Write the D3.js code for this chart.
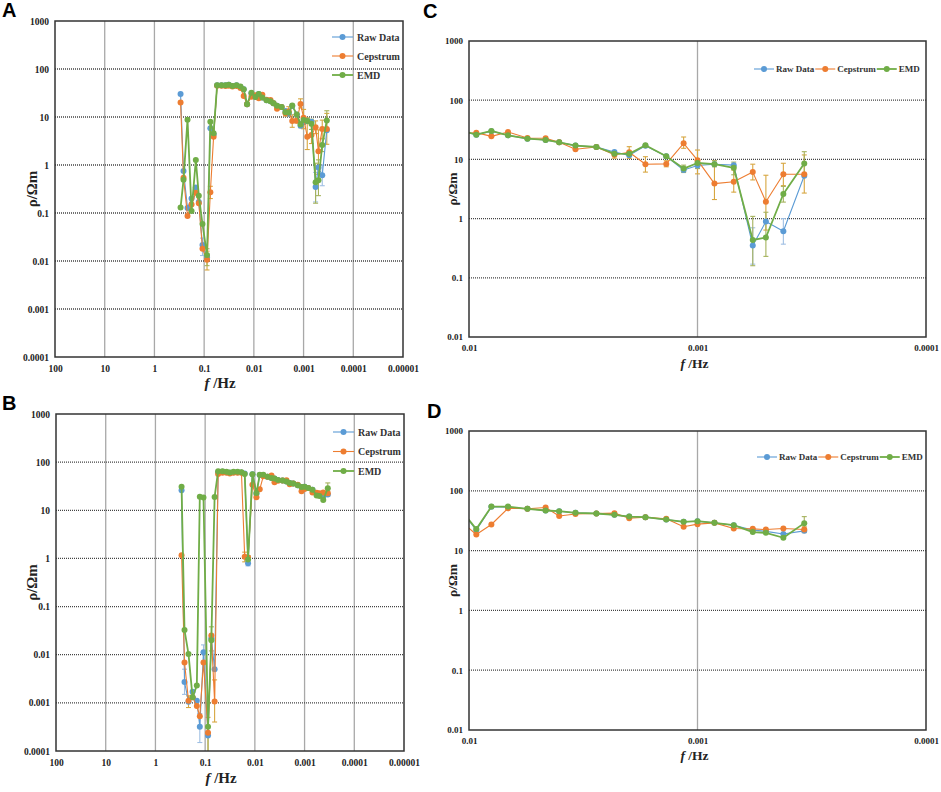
<!DOCTYPE html>
<html><head><meta charset="utf-8">
<script src="https://cdn.jsdelivr.net/npm/d3@7"></script>
<style>body{margin:0;background:#fff}</style>
</head><body>
<svg id="chart" width="941" height="792" xmlns="http://www.w3.org/2000/svg"></svg>
<script>
// ---------- data ----------
const freq = [0.298, 0.26, 0.216, 0.179, 0.147, 0.128, 0.108, 0.0875, 0.075, 0.0645,
  0.0548, 0.0448, 0.0372, 0.0319, 0.0269, 0.0223, 0.0186, 0.016, 0.0137, 0.0112,
  0.00929, 0.00798, 0.00675, 0.00555, 0.00462, 0.00403, 0.00342, 0.00277, 0.00231, 0.00199,
  0.00169, 0.00137, 0.00115, 0.001, 0.000843, 0.000694, 0.000573, 0.000502, 0.000421, 0.000341];

// site 1 (panels A and C)
const raw1 = [30, 0.75, 0.127, 0.2, 0.34, 0.17, 0.0215, 0.012, 5.8, 4.3,
  46, 46, 46, 47, 44, 46, 42, 38, 18.4, 31,
  26, 30, 25.5, 22.4, 21.3, 19.4, 17.1, 16.2, 13.3, 11.7,
  17, 11.3, 6.6, 7.9, 8.3, 8.0, 0.35, 0.89, 0.61, 5.3];
const ceps1 = [20, 0.54, 0.087, 0.15, 0.265, 0.16, 0.018, 0.0106, 0.27, 3.9,
  45, 45, 44, 45, 43, 44, 40, 27.5, 18.4, 26.5,
  28.3, 24.5, 29, 23, 22.7, 19.4, 14.8, 16.2, 12, 13.2,
  8.3, 8.4, 18.7, 9.7, 3.9, 4.2, 6.1, 1.93, 5.6, 5.6];
const emd1 = [0.13, 0.49, 8.8, 0.11, 1.27, 0.23, 0.059, 0.0133, 8.0, 4.6,
  46, 46, 46, 47, 44, 46, 43, 38, 18.4, 32,
  26.1, 30.2, 25.5, 22.4, 21.3, 19.4, 17.1, 16.2, 12.5, 12.4,
  17.3, 11.3, 7.0, 8.7, 8.3, 7.2, 0.435, 0.48, 2.6, 8.5];

// site 2 (panels B and D)
const raw2 = [26, 0.0027, 0.00106, 0.0017, 0.0011, 0.00032, 0.0112, 0.00021, 0.022, 0.005,
  62, 63, 62, 60, 62, 62, 61, 58, 0.79, 56,
  22, 54, 53, 50, 47, 45.6, 42.8, 41.7, 39.6, 37,
  36.2, 33, 30.3, 31, 29.1, 26.6, 22, 21, 19, 21.4];
const ceps2 = [1.16, 0.0069, 0.0011, 0.0013, 0.00086, 0.00053, 0.0069, 0.00024, 0.025, 0.00107,
  56.7, 60, 60, 58, 60, 60, 60, 1.09, 1.05, 34,
  18.6, 27.3, 51, 50, 52.5, 38, 41, 41.7, 42.3, 34.8,
  36.2, 34, 25, 27.7, 29.1, 23.4, 23.1, 22.5, 23.4, 22.5];
const emd2 = [31, 0.0325, 0.0103, 0.0013, 0.0023, 19, 18.5, 0.00032, 0.020, 18.9,
  65, 65, 63.5, 61, 63, 63, 62, 57, 0.95, 56,
  22.9, 54.4, 54.4, 49.9, 46.8, 45.6, 42.8, 41.7, 39.6, 37,
  36.2, 33, 30.3, 31, 29.1, 26.6, 20.4, 19.8, 16.4, 28.8];

// error bars: [point index, low, high]
const errRaw1 = [[6, 0.013, 0.03], [36, 0.17, 0.7], [38, 0.37, 1.0]];
const errCeps1 = [[7, 0.0065, 0.016], [8, 0.2, 0.36], [28, 10.5, 13.5], [29, 10.4, 16.4], [30, 6.1, 11.1],
  [31, 7.5, 9.5], [32, 15.4, 23.9], [33, 5.7, 14.4], [34, 2.1, 9.5], [35, 2.8, 6.6],
  [36, 4.5, 8.3], [37, 0.64, 5.4], [38, 3.6, 8.6], [39, 2.7, 11.9]];
const errEmd1 = [[7, 0.008, 0.018], [32, 6.0, 8.0], [33, 7.0, 10.0], [34, 7.5, 9.5], [35, 5.5, 9.0],
  [36, 0.16, 1.09], [37, 0.23, 1.28], [38, 1.9, 3.5], [39, 5.4, 13.5]];
const errRaw2 = [[1, 0.0015, 0.005], [5, 0.00015, 0.0006], [6, 0.007, 0.016], [18, 0.7, 0.9]];
const errCeps2 = [[2, 0.0008, 0.0014], [7, 0.00008, 0.0005], [9, 0.0004, 0.003], [17, 0.85, 1.35], [39, 20, 25]];
const errEmd2 = [[7, 0.00008, 0.001], [8, 0.012, 0.038], [18, 0.8, 1.15], [39, 22, 37]];

const seriesNames = ["Raw Data", "Cepstrum", "EMD"];
const seriesColors = ["#5B9BD5", "#ED7D31", "#70AD47"];
const errColors = ["#9fbfe3", "#d7a640", "#a5b25c"];

const xTicksWide = [100, 10, 1, 0.1, 0.01, 0.001, 0.0001, 0.00001];
const xLabelsWide = ["100", "10", "1", "0.1", "0.01", "0.001", "0.0001", "0.00001"];
const yTicksWide = [0.0001, 0.001, 0.01, 0.1, 1, 10, 100, 1000];
const yLabelsWide = ["0.0001", "0.001", "0.01", "0.1", "1", "10", "100", "1000"];
const xTicksZoom = [0.01, 0.001, 0.0001];
const xLabelsZoom = ["0.01", "0.001", "0.0001"];
const yTicksZoom = [0.01, 0.1, 1, 10, 100, 1000];
const yLabelsZoom = ["0.01", "0.1", "1", "10", "100", "1000"];

// ---------- drawing ----------
const svg = d3.select("#chart");
const serif = "'Liberation Serif','Times New Roman',serif";

const site1 = {series: [raw1, ceps1, emd1], errs: [errRaw1, errCeps1, errEmd1]};
const site2 = {series: [raw2, ceps2, emd2], errs: [errRaw2, errCeps2, errEmd2]};

const panels = [
  {id: "A", site: site1, x0: 55, x1: 403, y0: 21, y1: 357, xd: [100, 1e-5], yd: [1e-4, 1000],
   xt: xTicksWide, xl: xLabelsWide, yt: yTicksWide, yl: yLabelsWide, tick: 9.5, title: 15,
   letter: [2, 17], legend: "v", leg: [332, 37, 19], xTitleY: 388, yTitleX: 37, xTitleDx: -9},
  {id: "B", site: site2, x0: 56, x1: 404, y0: 414, y1: 751, xd: [100, 1e-5], yd: [1e-4, 1000],
   xt: xTicksWide, xl: xLabelsWide, yt: yTicksWide, yl: yLabelsWide, tick: 9.5, title: 15,
   letter: [2, 410], legend: "v", leg: [333, 432, 19.5], xTitleY: 783, yTitleX: 37, xTitleDx: -9},
  {id: "C", site: site1, x0: 469, x1: 926, y0: 41, y1: 337, xd: [0.01, 1e-4], yd: [0.01, 1000],
   xt: xTicksZoom, xl: xLabelsZoom, yt: yTicksZoom, yl: yLabelsZoom, tick: 9, title: 13.5,
   letter: [423, 18], legend: "h", leg: [754, 69], xTitleY: 368, yTitleX: 457, xTitleDx: -3},
  {id: "D", site: site2, x0: 469, x1: 926, y0: 431, y1: 730, xd: [0.01, 1e-4], yd: [0.01, 1000],
   xt: xTicksZoom, xl: xLabelsZoom, yt: yTicksZoom, yl: yLabelsZoom, tick: 9, title: 13.5,
   letter: [427, 418], legend: "h", leg: [757, 457], xTitleY: 760, yTitleX: 457, xTitleDx: -3}
];

const defs = svg.append("defs");

panels.forEach(p => {
  const x = d3.scaleLog().domain(p.xd).range([p.x0, p.x1]);
  const y = d3.scaleLog().domain(p.yd).range([p.y1, p.y0]);
  const g = svg.append("g");
  const clipId = "clip" + p.id;
  defs.append("clipPath").attr("id", clipId).append("rect")
    .attr("x", p.x0).attr("y", p.y0).attr("width", p.x1 - p.x0).attr("height", p.y1 - p.y0);

  // vertical grid
  g.append("g").selectAll("line").data(p.xt.slice(1, -1)).join("line")
    .attr("x1", d => x(d)).attr("x2", d => x(d)).attr("y1", p.y0).attr("y2", p.y1)
    .attr("stroke", "#a8a8a8").attr("stroke-width", 1.3);
  // horizontal grid
  g.append("g").selectAll("line").data(p.yt.slice(1, -1)).join("line")
    .attr("x1", p.x0).attr("x2", p.x1).attr("y1", d => y(d)).attr("y2", d => y(d))
    .attr("stroke", "#444").attr("stroke-width", 1.3).attr("stroke-dasharray", "1,1");

  // axes labels via d3 axes
  const xAxis = d3.axisBottom(x).tickValues(p.xt).tickFormat((d, i) => p.xl[i]).tickSize(0).tickPadding(8);
  const gx = g.append("g").attr("transform", `translate(0,${p.y1})`).call(xAxis);
  gx.select(".domain").remove();
  gx.selectAll("text").attr("font-family", serif).attr("font-weight", "bold")
    .attr("font-size", p.tick).attr("fill", "#222");
  const yAxis = d3.axisLeft(y).tickValues(p.yt).tickFormat((d, i) => p.yl[i]).tickSize(0).tickPadding(6);
  const gy = g.append("g").attr("transform", `translate(${p.x0},0)`).call(yAxis);
  gy.select(".domain").remove();
  gy.selectAll("text").attr("font-family", serif).attr("font-weight", "bold")
    .attr("font-size", p.tick).attr("fill", "#222");

  // series
  const plot = g.append("g").attr("clip-path", `url(#${clipId})`);
  const line = d3.line().x((d, i) => x(freq[i])).y(d => y(d));
  p.site.series.forEach((vals, s) => {
    const eb = plot.append("g").attr("stroke", errColors[s]).attr("stroke-width", 1.1);
    p.site.errs[s].forEach(e => {
      const cx = x(freq[e[0]]);
      const ylo = y(Math.max(e[1], p.yd[0] * 0.5)), yhi = y(e[2]);
      eb.append("line").attr("x1", cx).attr("x2", cx).attr("y1", ylo).attr("y2", yhi);
      eb.append("line").attr("x1", cx - 2.5).attr("x2", cx + 2.5).attr("y1", yhi).attr("y2", yhi);
      eb.append("line").attr("x1", cx - 2.5).attr("x2", cx + 2.5).attr("y1", ylo).attr("y2", ylo);
    });
  });
  p.site.series.forEach((vals, s) => {
    plot.append("path").datum(vals).attr("d", line).attr("fill", "none")
      .attr("stroke", seriesColors[s]).attr("stroke-width", s === 2 ? 1.8 : 1.1)
      .attr("stroke-linejoin", "round");
    plot.append("g").selectAll("circle").data(vals).join("circle")
      .attr("cx", (d, i) => x(freq[i])).attr("cy", d => y(d)).attr("r", 3)
      .attr("fill", seriesColors[s]);
  });

  // border
  g.append("rect").attr("x", p.x0).attr("y", p.y0).attr("width", p.x1 - p.x0).attr("height", p.y1 - p.y0)
    .attr("fill", "none").attr("stroke", "#333").attr("stroke-width", 1.5);

  // titles
  const xt = g.append("text").attr("x", (p.x0 + p.x1) / 2 + p.xTitleDx).attr("y", p.xTitleY)
    .attr("text-anchor", "middle").attr("font-family", serif).attr("font-weight", "bold")
    .attr("font-size", p.title).attr("fill", "#222");
  xt.append("tspan").attr("font-style", "italic").text("f");
  xt.append("tspan").text(" /Hz");
  g.append("text").attr("transform", `translate(${p.yTitleX},${(p.y0 + p.y1) / 2}) rotate(-90)`)
    .attr("text-anchor", "middle").attr("font-family", serif).attr("font-weight", "bold")
    .attr("font-size", p.title).attr("fill", "#222").text("ρ/Ωm");

  // panel letter
  svg.append("text").attr("x", p.letter[0]).attr("y", p.letter[1])
    .attr("font-family", "'Liberation Sans',Arial,sans-serif").attr("font-weight", "bold")
    .attr("font-size", 20).attr("fill", "#000").text(p.id);

  // legend
  const lg = g.append("g");
  if (p.legend === "v") {
    seriesNames.forEach((n, s) => {
      const ly = p.leg[1] + s * p.leg[2];
      lg.append("line").attr("x1", p.leg[0]).attr("x2", p.leg[0] + 21).attr("y1", ly).attr("y2", ly)
        .attr("stroke", seriesColors[s]).attr("stroke-width", s === 2 ? 1.8 : 1.1);
      lg.append("circle").attr("cx", p.leg[0] + 10.5).attr("cy", ly).attr("r", 3).attr("fill", seriesColors[s]);
      lg.append("text").attr("x", p.leg[0] + 25).attr("y", ly).attr("dy", "0.35em")
        .attr("font-family", serif).attr("font-weight", "bold").attr("font-size", 10)
        .attr("fill", "#333").text(n);
    });
  } else {
    let cx = p.leg[0];
    const ly = p.leg[1];
    seriesNames.forEach((n, s) => {
      lg.append("line").attr("x1", cx).attr("x2", cx + 20).attr("y1", ly).attr("y2", ly)
        .attr("stroke", seriesColors[s]).attr("stroke-width", s === 2 ? 1.8 : 1.1);
      lg.append("circle").attr("cx", cx + 10).attr("cy", ly).attr("r", 3).attr("fill", seriesColors[s]);
      const t = lg.append("text").attr("x", cx + 22).attr("y", ly).attr("dy", "0.35em")
        .attr("font-family", serif).attr("font-weight", "bold").attr("font-size", 9)
        .attr("fill", "#333").text(n);
      cx += 22 + t.node().getComputedTextLength() + 1;
    });
  }
});
</script>
</body></html>
